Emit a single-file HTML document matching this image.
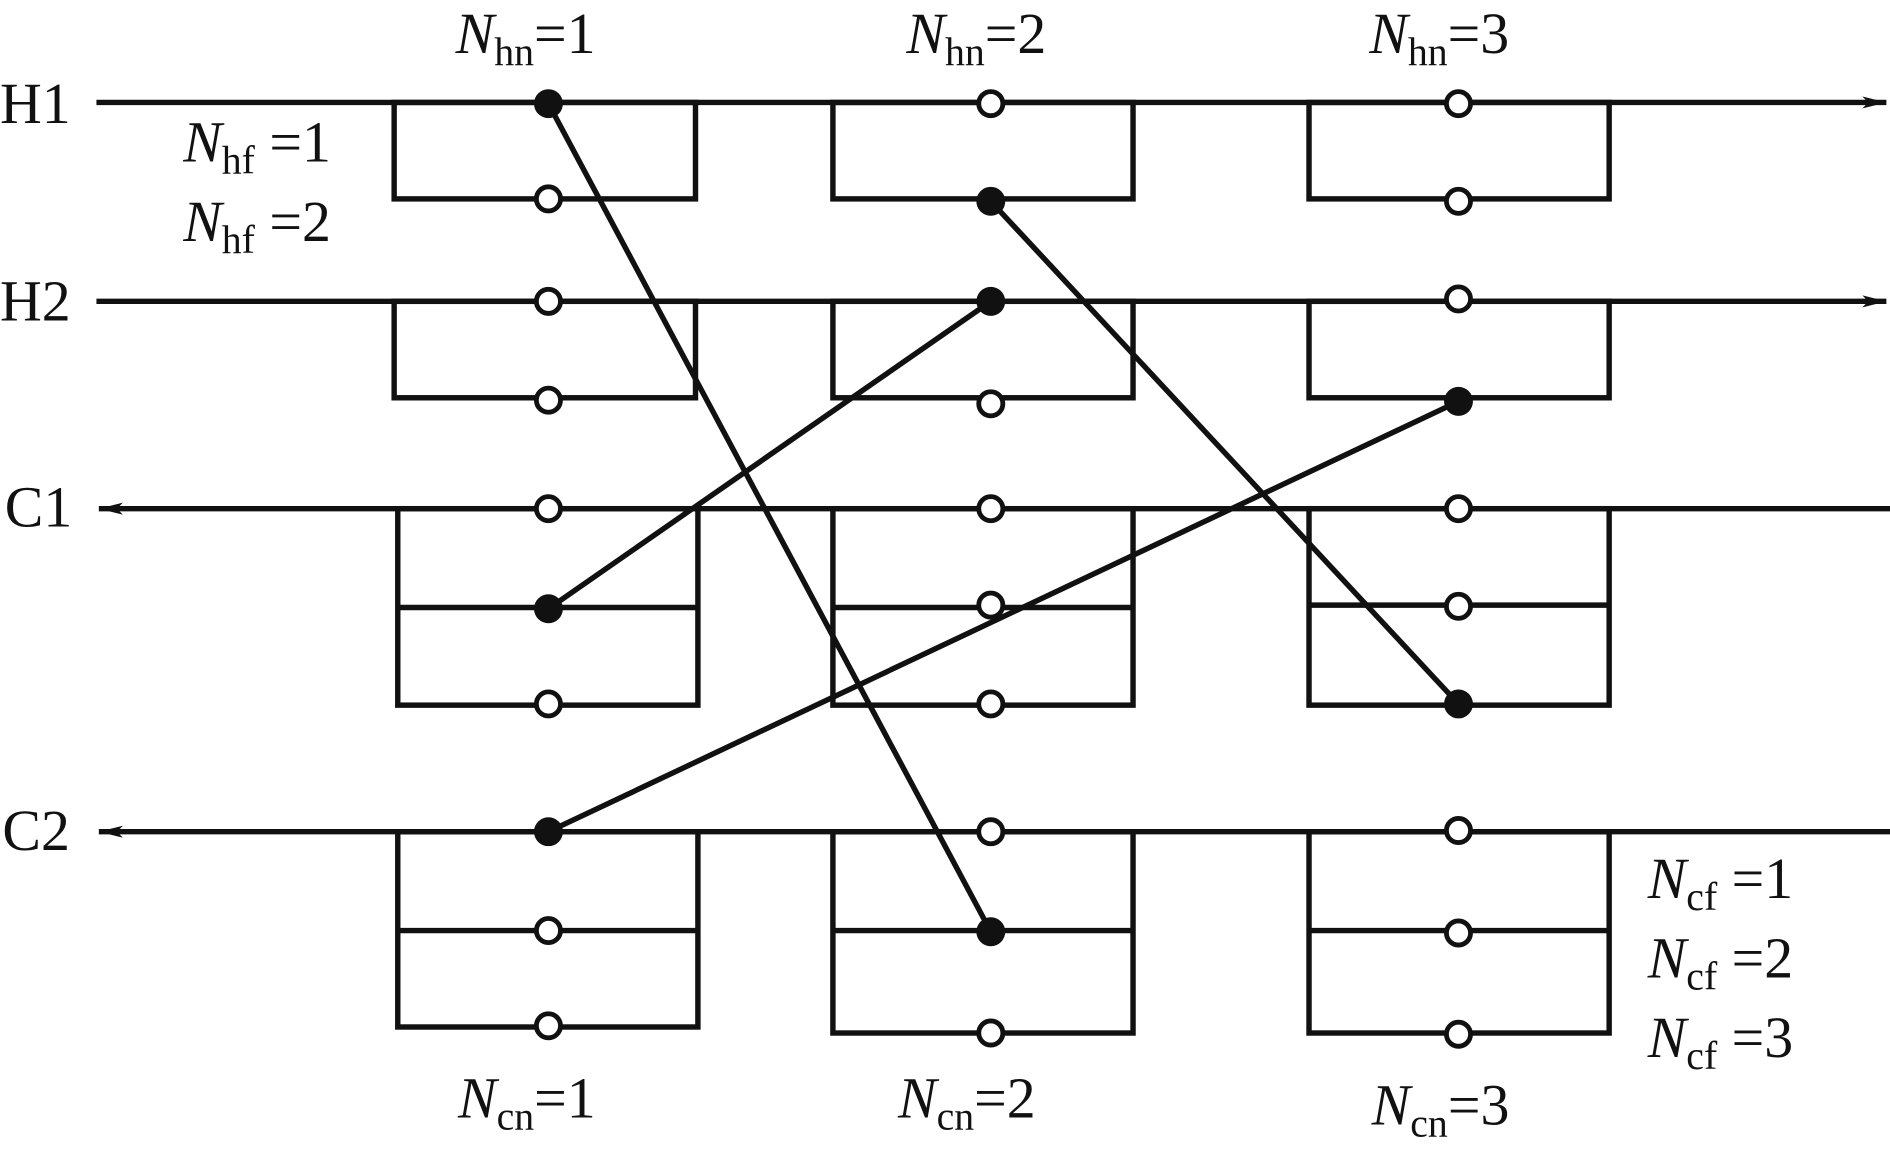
<!DOCTYPE html>
<html><head><meta charset="utf-8"><style>html,body{margin:0;padding:0;background:#fff}svg{display:block}text{font-family:"Liberation Serif",serif;font-size:48px;fill:#111}</style></head><body>
<svg width="1890" height="1162" viewBox="0 0 1568 964" preserveAspectRatio="none" xmlns="http://www.w3.org/2000/svg">
<defs>
<marker id="ar" viewBox="0 0 20 10" refX="20" refY="5" markerWidth="20" markerHeight="10" markerUnits="userSpaceOnUse" orient="auto"><path d="M0,0 L20,5 L0,10 L5,5 z" fill="#111"/></marker>
</defs>
<g stroke="#111" stroke-width="4.5" fill="none">
<line x1="80" y1="85" x2="1565" y2="85" marker-end="url(#ar)"/>
<line x1="80" y1="250" x2="1565" y2="250" marker-end="url(#ar)"/>
<line x1="1568" y1="422" x2="82" y2="422" marker-end="url(#ar)"/>
<line x1="1568" y1="690" x2="82" y2="690" marker-end="url(#ar)"/>
<rect x="327" y="85" width="250" height="80"/><rect x="691" y="85" width="249" height="80"/><rect x="1086" y="85" width="249" height="80"/>
<rect x="327" y="250" width="250" height="80"/><rect x="691" y="250" width="249" height="80"/><rect x="1086" y="250" width="249" height="80"/>
<rect x="330" y="422" width="249" height="163"/><line x1="330" y1="504" x2="579" y2="504"/>
<rect x="691" y="422" width="249" height="163"/><line x1="691" y1="504" x2="940" y2="504"/>
<rect x="1086" y="422" width="249" height="163"/><line x1="1086" y1="502" x2="1335" y2="502"/>
<rect x="330" y="690" width="249" height="162"/><line x1="330" y1="772" x2="579" y2="772"/>
<rect x="691" y="690" width="249" height="167"/><line x1="691" y1="772" x2="940" y2="772"/>
<rect x="1086" y="690" width="249" height="167"/><line x1="1086" y1="772" x2="1335" y2="772"/>
<line x1="455" y1="86" x2="822" y2="773"/>
<line x1="822" y1="167" x2="1210" y2="584"/>
<line x1="822" y1="250" x2="455" y2="505"/>
<line x1="1210" y1="333" x2="455" y2="690"/>
</g>
<g stroke="#111" stroke-width="4" fill="#fff">
<circle cx="455" cy="165" r="10"/><circle cx="822" cy="86" r="10"/><circle cx="1210" cy="86" r="10"/><circle cx="1210" cy="167" r="10"/>
<circle cx="455" cy="250" r="10"/><circle cx="455" cy="332" r="10"/><circle cx="822" cy="335" r="10"/><circle cx="1210" cy="248" r="10"/>
<circle cx="455" cy="422" r="10"/><circle cx="455" cy="584" r="10"/><circle cx="822" cy="422" r="10"/><circle cx="822" cy="502" r="10"/><circle cx="822" cy="584" r="10"/><circle cx="1210" cy="422" r="10"/><circle cx="1210" cy="503" r="10"/>
<circle cx="455" cy="772" r="10"/><circle cx="455" cy="851" r="10"/><circle cx="822" cy="690" r="10"/><circle cx="822" cy="857" r="10"/><circle cx="1210" cy="689" r="10"/><circle cx="1210" cy="774" r="10"/><circle cx="1210" cy="858" r="10"/>
</g>
<g fill="#111">
<circle cx="455" cy="86" r="12"/><circle cx="822" cy="167" r="12"/><circle cx="822" cy="250" r="12"/><circle cx="1210" cy="333" r="12"/><circle cx="455" cy="505" r="12"/><circle cx="1210" cy="584" r="12"/><circle cx="455" cy="690" r="12"/><circle cx="822" cy="773" r="12"/>
</g>
<text x="0" y="102">H1</text><text x="0" y="266">H2</text><text x="4" y="437">C1</text><text x="2" y="705">C2</text>
<text x="378" y="44"><tspan font-style="italic">N</tspan><tspan font-size="33" dy="10">hn</tspan><tspan dy="-10">=1</tspan></text>
<text x="752" y="44"><tspan font-style="italic">N</tspan><tspan font-size="33" dy="10">hn</tspan><tspan dy="-10">=2</tspan></text>
<text x="1136" y="44"><tspan font-style="italic">N</tspan><tspan font-size="33" dy="10">hn</tspan><tspan dy="-10">=3</tspan></text>
<text x="152" y="134"><tspan font-style="italic">N</tspan><tspan font-size="33" dy="10">hf</tspan><tspan dy="-10"> =1</tspan></text>
<text x="152" y="200"><tspan font-style="italic">N</tspan><tspan font-size="33" dy="10">hf</tspan><tspan dy="-10"> =2</tspan></text>
<text x="1367" y="745"><tspan font-style="italic">N</tspan><tspan font-size="33" dy="10">cf</tspan><tspan dy="-10"> =1</tspan></text>
<text x="1367" y="811"><tspan font-style="italic">N</tspan><tspan font-size="33" dy="10">cf</tspan><tspan dy="-10"> =2</tspan></text>
<text x="1367" y="877"><tspan font-style="italic">N</tspan><tspan font-size="33" dy="10">cf</tspan><tspan dy="-10"> =3</tspan></text>
<text x="380" y="927"><tspan font-style="italic">N</tspan><tspan font-size="33" dy="10">cn</tspan><tspan dy="-10">=1</tspan></text>
<text x="745" y="927"><tspan font-style="italic">N</tspan><tspan font-size="33" dy="10">cn</tspan><tspan dy="-10">=2</tspan></text>
<text x="1138" y="933"><tspan font-style="italic">N</tspan><tspan font-size="33" dy="10">cn</tspan><tspan dy="-10">=3</tspan></text>
</svg>
</body></html>
